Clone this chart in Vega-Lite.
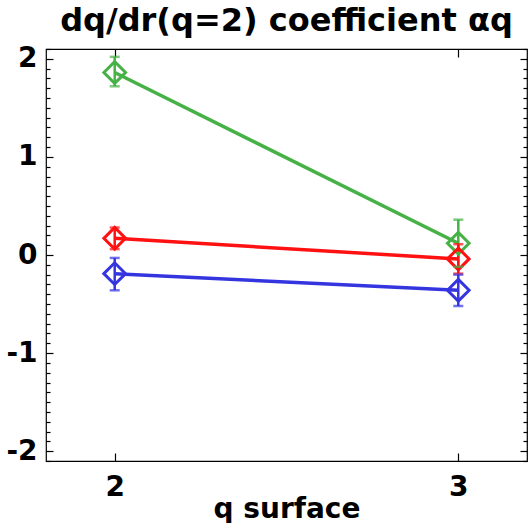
{
  "$schema": "https://vega.github.io/schema/vega-lite/v6.json",
  "width": 532,
  "height": 523,
  "autosize": {"type": "fit", "contains": "padding"},
  "padding": {"left": 5, "right": 4, "top": 5, "bottom": 0},
  "background": "white",
  "config": {"view": {"stroke": "black", "strokeWidth": 1.2}, "font": "DejaVu Sans"},
  "title": {"text": "dq/dr(q=2) coefficient αq", "fontSize": 32, "fontWeight": "bold", "font": "DejaVu Sans", "color": "black", "anchor": "middle", "frame": "group", "offset": -3},
  "data": {"values": [
    {"s": "g", "q": 2, "v": 1.86, "lo": 1.72, "hi": 2.02},
    {"s": "g", "q": 3, "v": 0.12, "lo": -0.12, "hi": 0.36},
    {"s": "r", "q": 2, "v": 0.17, "lo": 0.06, "hi": 0.28},
    {"s": "r", "q": 3, "v": -0.04, "lo": -0.19, "hi": 0.11},
    {"s": "b", "q": 2, "v": -0.19, "lo": -0.36, "hi": -0.03},
    {"s": "b", "q": 3, "v": -0.36, "lo": -0.52, "hi": -0.2}
  ]},
  "resolve": {"axis": {"x": "independent", "y": "independent"}},
  "layer": [
    {
      "mark": {"type": "line", "strokeWidth": 3.5},
      "encoding": {
        "x": {"field": "q", "type": "quantitative", "scale": {"domain": [1.8, 3.2], "nice": false, "zero": false},
          "axis": {"orient": "bottom", "values": [2, 3], "labelExpr": "'' + datum.value", "domain": false, "grid": false, "tickSize": -8, "tickColor": "black", "tickWidth": 1.2, "labelPadding": 20, "labelFont": "DejaVu Sans", "labelFontSize": 28, "labelFontWeight": "bold", "labelColor": "black", "title": "q surface", "titleFont": "DejaVu Sans", "titleFontSize": 28, "titleFontWeight": "bold", "titleColor": "black", "titlePadding": -6, "labelFlush": false}},
        "y": {"field": "v", "type": "quantitative", "scale": {"domain": [-2.1, 2.1], "nice": false, "zero": false},
          "axis": {"orient": "left", "values": [-2.1, -2, -1.9, -1.8, -1.7, -1.6, -1.5, -1.4, -1.3, -1.2, -1.1, -1, -0.9, -0.8, -0.7, -0.6, -0.5, -0.4, -0.3, -0.2, -0.1, 0, 0.1, 0.2, 0.3, 0.4, 0.5, 0.6, 0.7, 0.8, 0.9, 1, 1.1, 1.2, 1.3, 1.4, 1.5, 1.6, 1.7, 1.8, 1.9, 2, 2.1],
            "labelExpr": "datum.value % 1 === 0 ? '' + datum.value : ''",
            "tickSize": {"condition": {"test": "datum.value % 1 === 0", "value": -7}, "value": -4},
            "labelPadding": 16,
            "domain": false, "grid": false, "tickColor": "black", "tickWidth": 1.2, "labelFont": "DejaVu Sans", "labelFontSize": 28, "labelFontWeight": "bold", "labelColor": "black", "title": null, "labelFlush": false, "labelOverlap": false}},
        "color": {"field": "s", "type": "nominal", "scale": {"domain": ["g", "r", "b"], "range": ["#46b246", "#ff1111", "#3535e0"]}, "legend": null},
        "detail": {"field": "s"}
      }
    },
    {
      "mark": {"type": "rule", "strokeWidth": 2.5},
      "encoding": {
        "x": {"field": "q", "type": "quantitative", "axis": {"orient": "top", "values": [2, 3], "domain": false, "grid": false, "labels": false, "tickSize": -8, "tickColor": "black", "tickWidth": 1.2, "title": null}},
        "y": {"field": "lo", "type": "quantitative", "axis": {"orient": "right", "values": [-2.1, -2, -1.9, -1.8, -1.7, -1.6, -1.5, -1.4, -1.3, -1.2, -1.1, -1, -0.9, -0.8, -0.7, -0.6, -0.5, -0.4, -0.3, -0.2, -0.1, 0, 0.1, 0.2, 0.3, 0.4, 0.5, 0.6, 0.7, 0.8, 0.9, 1, 1.1, 1.2, 1.3, 1.4, 1.5, 1.6, 1.7, 1.8, 1.9, 2, 2.1],
            "tickSize": {"condition": {"test": "datum.value % 1 === 0", "value": -7}, "value": -4},
            "domain": false, "grid": false, "labels": false, "tickColor": "black", "tickWidth": 1.2, "title": null}},
        "y2": {"field": "hi"},
        "color": {"field": "s", "type": "nominal", "legend": null}
      }
    },
    {
      "mark": {"type": "point", "shape": "diamond", "size": 470, "strokeWidth": 3, "filled": false, "opacity": 1},
      "encoding": {
        "x": {"field": "q", "type": "quantitative", "axis": null},
        "y": {"field": "v", "type": "quantitative", "axis": null},
        "color": {"field": "s", "type": "nominal", "legend": null}
      }
    },
    {
      "mark": {"type": "tick", "orient": "horizontal", "size": 10, "thickness": 2.5},
      "encoding": {
        "x": {"field": "q", "type": "quantitative", "axis": null},
        "y": {"field": "lo", "type": "quantitative", "axis": null},
        "color": {"field": "s", "type": "nominal", "legend": null}
      }
    },
    {
      "mark": {"type": "tick", "orient": "horizontal", "size": 10, "thickness": 2.5},
      "encoding": {
        "x": {"field": "q", "type": "quantitative", "axis": null},
        "y": {"field": "hi", "type": "quantitative", "axis": null},
        "color": {"field": "s", "type": "nominal", "legend": null}
      }
    }
  ]
}
